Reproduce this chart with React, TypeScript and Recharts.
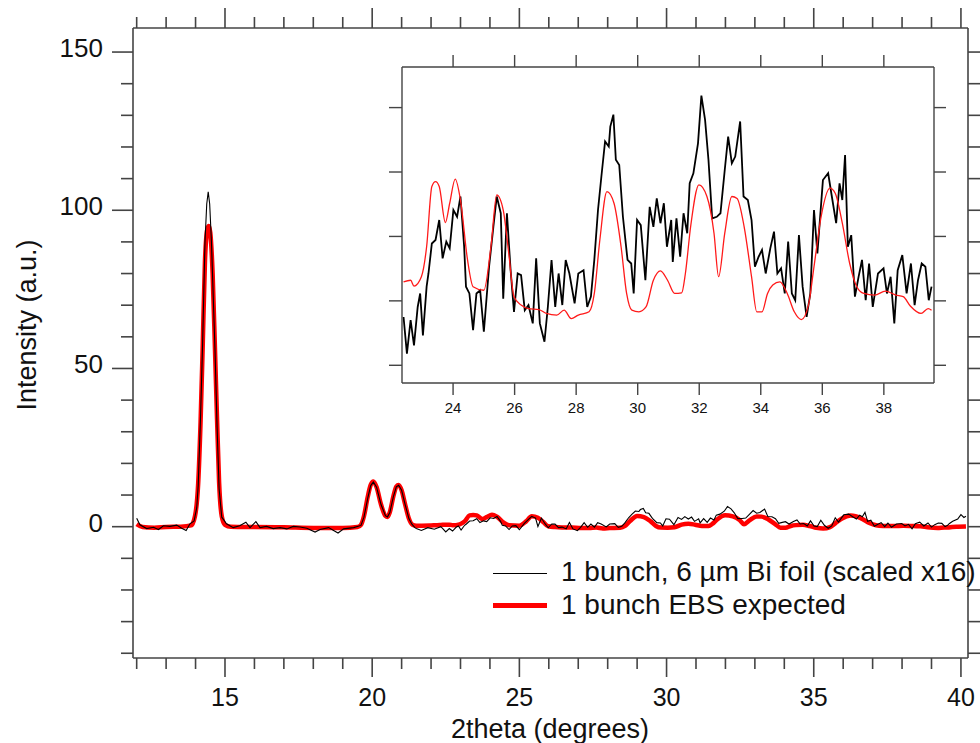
import React from 'react';
import { LineChart, Line, XAxis, YAxis } from 'recharts';

// ---- data (2theta in degrees, intensity in a.u.) ----

// measured curve, 1 bunch / 6 um Bi foil (scaled x16), below the inset range
const blackLow = [
  [12.0, 2.7], [12.11, 0.6], [12.34, -0.6], [12.57, -0.2], [12.74, -0.9], [12.91, 0.3],
  [13.13, 0.1], [13.36, 0.5], [13.53, -0.5], [13.68, -1.2], [13.81, 0.9], [13.95, 1.8],
  [14.04, 6], [14.09, 13], [14.17, 35], [14.24, 58], [14.32, 90], [14.38, 102], [14.43, 105.8],
  [14.48, 102], [14.54, 90], [14.66, 56], [14.73, 32], [14.8, 12], [14.89, 3], [14.97, 2.0],
  [15.05, 0.9], [15.28, -0.3], [15.5, 0.3], [15.71, 1.4], [15.85, -0.3], [16.05, 1.6],
  [16.19, -0.3], [16.41, 0.1], [16.64, -0.6], [16.87, -0.3], [17.1, -0.7], [17.32, 0.1],
  [17.55, -0.1], [17.78, -0.5], [18.06, -1.7], [18.23, -0.9], [18.52, -0.3], [18.69, -1.2],
  [18.84, -2.0], [19.03, -0.7], [19.37, -0.3], [19.62, 0.4], [19.72, 3], [19.85, 9],
  [19.95, 13], [20.04, 14.1], [20.15, 12.5], [20.3, 7], [20.45, 3.5], [20.52, 3.1], [20.6, 4.5],
  [20.72, 9.5], [20.82, 12.6], [20.9, 13.1], [21.0, 11.5], [21.12, 7], [21.25, 2.5],
  [21.35, 0.8], [21.45, -0.3], [21.5, -0.6], [21.67, -1.2], [21.89, -0.3], [22.11, -0.8],
  [22.33, 0.0],
];

// measured curve inside the zoomed window (same units)
const blackInset = [
  [22.39, -0.5], [22.5, -1.64], [22.62, -0.6], [22.73, -1.38], [22.85, -0.19], [22.93, 0.23],
  [23.02, -1.07], [23.14, 0.44], [23.2, 0.85], [23.31, 1.78], [23.43, 1.89], [23.55, 2.51],
  [23.66, 1.32], [23.78, 1.84], [23.89, 1.63], [24.01, 2.82], [24.13, 2.61], [24.24, 3.24],
  [24.36, 1.68], [24.42, 0.44], [24.53, 0.23], [24.65, -0.91], [24.76, 0.23], [24.88, 0.33],
  [25.0, -0.96], [25.17, 1.06], [25.31, 2.3], [25.42, 3.24], [25.55, 2.72], [25.63, 0.07],
  [25.75, 2.72], [25.87, 0.95], [25.98, -0.34], [26.1, 0.85], [26.21, 0.8], [26.33, -0.29],
  [26.45, -0.13], [26.59, -0.7], [26.7, 1.32], [26.82, -0.7], [26.97, -1.27], [27.08, -0.19],
  [27.2, 1.27], [27.32, -0.19], [27.43, 0.85], [27.55, -0.13], [27.66, 1.27], [27.78, 0.85],
  [27.95, -0.08], [28.07, 0.85], [28.24, 0.95], [28.36, -0.19], [28.48, 0.13], [28.59, 1.27],
  [28.71, 2.82], [28.82, 3.86], [28.94, 4.95], [29.06, 4.79], [29.11, 5.41], [29.21, 5.78],
  [29.29, 4.38], [29.4, 4.22], [29.52, 2.61], [29.67, 1.27], [29.79, 1.16], [29.87, 0.23],
  [29.98, 2.51], [30.1, 2.35], [30.25, 0.64], [30.39, 2.92], [30.51, 2.3], [30.62, 3.18],
  [30.74, 2.41], [30.85, 3.03], [30.95, 1.68], [31.09, 2.51], [31.14, 1.21], [31.26, 2.56],
  [31.38, 1.37], [31.49, 2.72], [31.61, 2.1], [31.69, 3.65], [31.81, 3.96], [31.96, 4.89],
  [32.07, 6.37], [32.19, 5.62], [32.3, 4.38], [32.42, 2.56], [32.57, 2.61], [32.69, 2.72],
  [32.83, 4.07], [32.94, 5.1], [33.06, 4.27], [33.17, 4.48], [33.33, 5.57], [33.44, 3.24],
  [33.58, 3.13], [33.7, 2.51], [33.81, 1.06], [33.93, 1.37], [34.04, 1.58], [34.16, 0.85],
  [34.31, 1.63], [34.43, 2.15], [34.54, 0.85], [34.66, 1.01], [34.78, 0.23], [34.89, 1.84],
  [35.01, 0.23], [35.12, 0.02], [35.24, 2.04], [35.36, 0.44], [35.49, -0.5], [35.61, 0.23],
  [35.73, 2.82], [35.84, 1.47], [36.02, 3.75], [36.19, 3.96], [36.31, 3.24], [36.45, 2.41],
  [36.56, 3.65], [36.65, 3.13], [36.74, 4.53], [36.83, 1.68], [36.94, 2.04], [37.06, 0.13],
  [37.18, 0.75], [37.29, 1.27], [37.41, 0.02], [37.52, 1.16], [37.64, -0.19], [37.81, 0.85],
  [37.99, 1.01], [38.1, 0.23], [38.22, 0.75], [38.34, -0.7], [38.45, 0.95], [38.6, 1.42],
  [38.74, 0.23], [38.88, 1.16], [39.0, -0.13], [39.11, 0.64], [39.23, 1.16], [39.35, 1.06],
  [39.46, 0.02], [39.55, 0.44],
];

const blackTail = [[39.6, 0.95], [39.72, 1.7], [39.89, 2.4], [40.0, 3.8], [40.1, 2.9], [40.17, 3.3]];

// expected EBS curve
const redLow = [
  [12.0, 0.8], [12.2, -0.1], [12.6, -0.3], [13.0, -0.1], [13.5, 0], [13.85, 0.4], [13.98, 3.3],
  [14.09, 13.8], [14.17, 33], [14.24, 56], [14.32, 84], [14.4, 94], [14.45, 95], [14.5, 93],
  [14.58, 80], [14.66, 56], [14.73, 34], [14.8, 14], [14.89, 3.3], [15.0, 0.6], [15.2, 0],
  [16.0, -0.1], [17.0, -0.2], [18.0, -0.4], [19.0, -0.4], [19.5, -0.1], [19.62, 0.6],
  [19.72, 3.3], [19.85, 9.5], [19.95, 13.2], [20.04, 14.3], [20.15, 12.5], [20.3, 7],
  [20.45, 3.4], [20.52, 3.1], [20.6, 4.6], [20.72, 9.6], [20.82, 12.7], [20.9, 13.2],
  [21.0, 11.5], [21.12, 7], [21.25, 2.5], [21.37, 0.6], [21.5, 0.3], [22.0, 0.4], [22.3, 0.5],
];

const redInset = [
  [22.39, 0.59], [22.62, 0.64], [22.73, 0.46], [22.97, 0.75], [23.14, 1.68], [23.31, 3.55],
  [23.43, 3.7], [23.55, 3.55], [23.75, 2.43], [23.89, 3.03], [24.07, 3.78], [24.24, 3.13],
  [24.47, 1.27], [24.65, 0.44], [25.0, 0.33], [25.23, 1.68], [25.42, 3.29], [25.63, 2.82],
  [25.81, 1.47], [25.98, 0.13], [26.21, -0.13], [26.45, -0.24], [26.79, -0.27], [27.03, -0.39],
  [27.37, -0.44], [27.61, -0.29], [27.84, -0.55], [28.07, -0.44], [28.42, -0.34], [28.59, 0.23],
  [28.77, 1.89], [29.0, 3.39], [29.23, 3.03], [29.46, 1.68], [29.64, 0.23], [29.81, -0.29],
  [30.04, -0.34], [30.27, -0.19], [30.51, 0.64], [30.74, 0.93], [30.97, 0.64], [31.2, 0.23],
  [31.43, 0.25], [31.55, 0.85], [31.72, 2.3], [31.99, 3.6], [32.25, 3.24], [32.48, 2.1],
  [32.63, 0.75], [32.83, 2.1], [33.06, 3.24], [33.23, 3.18], [33.46, 2.3], [33.7, 0.75],
  [33.87, -0.34], [34.04, -0.34], [34.22, 0.23], [34.39, 0.49], [34.62, 0.59], [34.86, 0.23],
  [35.09, -0.34], [35.32, -0.58], [35.55, -0.13], [35.73, 1.06], [35.96, 2.61], [36.25, 3.5],
  [36.42, 3.34], [36.65, 2.41], [36.89, 1.16], [37.12, 0.44], [37.35, 0.23], [37.7, 0.18],
  [38.05, 0.3], [38.39, 0.18], [38.63, 0.13], [38.86, -0.16], [39.21, -0.39], [39.44, -0.24],
  [39.55, -0.29],
];

const redTail = [[39.7, -0.1], [39.9, 0], [40.17, 0.1]];

// axes
const mainXTicks = [12, 13, 14, 15, 16, 17, 18, 19, 20, 21, 22, 23, 24, 25, 26, 27, 28, 29, 30, 31, 32, 33, 34, 35, 36, 37, 38, 39, 40];
const mainYTicks = [-40, -30, -20, -10, 0, 10, 20, 30, 40, 50, 60, 70, 80, 90, 100, 110, 120, 130, 140, 150];
const insetXTicks = [24, 26, 28, 30, 32, 34, 36, 38];
const insetYTicks = [-2, 0, 2, 4, 6];

const legendItems = ['1 bunch, 6 \u00b5m Bi foil (scaled x16)', '1 bunch EBS expected'];

const toPts = (...segs: number[][][]) => segs.flat().map(([x, y]) => ({ x, y }));

const blackMain = toPts(blackLow, blackInset, blackTail);
const redMain = toPts(redLow, redInset, redTail);
const blackZoom = toPts(blackInset);
const redZoom = toPts(redInset);

const FONT = '"Liberation Sans", Arial, Helvetica, sans-serif';
const INK = '#111';
const AXIS = '#444';

// --- tick renderers (tickSize=0 so x/y are on the axis line) ---
const BottomTick = (p: any) => {
  const major = p.payload.value % 5 === 0;
  return (
    <g>
      <line x1={p.x} y1={p.y} x2={p.x} y2={p.y + (major ? 19 : 11)} stroke={AXIS} strokeWidth={1.6} />
      {major && (
        <text x={p.x} y={p.y + 48} textAnchor="middle" fontSize={25} fill={INK} fontFamily={FONT}>
          {p.payload.value}
        </text>
      )}
    </g>
  );
};

const TopTick = (p: any) => {
  const major = p.payload.value % 5 === 0;
  return <line x1={p.x} y1={p.y} x2={p.x} y2={p.y - (major ? 20 : 11)} stroke={AXIS} strokeWidth={1.6} />;
};

const LeftTick = (p: any) => {
  const major = p.payload.value % 50 === 0;
  return (
    <g>
      <line x1={p.x} y1={p.y} x2={p.x - (major ? 21 : 12)} y2={p.y} stroke={AXIS} strokeWidth={1.6} />
      {major && (
        <text x={p.x - 30} y={p.y + 5} textAnchor="end" fontSize={26} fill={INK} fontFamily={FONT}>
          {p.payload.value}
        </text>
      )}
    </g>
  );
};

const RightTick = (p: any) => (
  <line x1={p.x} y1={p.y} x2={p.x + 13} y2={p.y} stroke={AXIS} strokeWidth={1.6} />
);

const InsetBottomTick = (p: any) => (
  <g>
    <line x1={p.x} y1={p.y} x2={p.x} y2={p.y + 12} stroke={AXIS} strokeWidth={1.4} />
    <text x={p.x} y={p.y + 30} textAnchor="middle" fontSize={15} fill={INK} fontFamily={FONT}>
      {p.payload.value}
    </text>
  </g>
);
const InsetTopTick = (p: any) => <line x1={p.x} y1={p.y} x2={p.x} y2={p.y - 12} stroke={AXIS} strokeWidth={1.4} />;
const InsetLeftTick = (p: any) => <line x1={p.x} y1={p.y} x2={p.x - 13} y2={p.y} stroke={AXIS} strokeWidth={1.4} />;
const InsetRightTick = (p: any) => <line x1={p.x} y1={p.y} x2={p.x + 12} y2={p.y} stroke={AXIS} strokeWidth={1.4} />;

const xTitle = () => (
  <text x={550} y={738} textAnchor="middle" fontSize={27} fill={INK} fontFamily={FONT}>
    2theta (degrees)
  </text>
);
const yTitle = () => (
  <text x={36} y={325} transform="rotate(-90 36 325)" textAnchor="middle" fontSize={27} fill={INK} fontFamily={FONT}>
    Intensity (a.u.)
  </text>
);

export default function App() {
  const axisLine = { stroke: AXIS, strokeWidth: 1.6 };
  const insetLine = { stroke: AXIS, strokeWidth: 1.4 };
  return (
    <div style={{ position: 'absolute', left: 0, top: 0, width: 980, height: 743, background: '#fff', overflow: 'hidden' }}>
      <LineChart width={980} height={743} margin={{ top: 0, right: 0, bottom: 0, left: 0 }}>
        <XAxis dataKey="x" type="number" domain={[11.875, 40.24]} allowDataOverflow ticks={mainXTicks} interval={0}
          height={85} tickSize={0} tickMargin={0} tickLine={false} axisLine={axisLine} tick={BottomTick} label={xTitle} />
        <XAxis xAxisId="top" orientation="top" dataKey="x" type="number" domain={[11.875, 40.24]} allowDataOverflow
          ticks={mainXTicks} interval={0} height={28} tickSize={0} tickMargin={0} tickLine={false} axisLine={axisLine} tick={TopTick} />
        <YAxis type="number" domain={[-41.5, 157.6]} allowDataOverflow ticks={mainYTicks} interval={0} width={133}
          tickSize={0} tickMargin={0} tickLine={false} axisLine={axisLine} tick={LeftTick} label={yTitle} />
        <YAxis yAxisId="r" orientation="right" type="number" domain={[-41.5, 157.6]} allowDataOverflow ticks={mainYTicks}
          interval={0} width={12} tickSize={0} tickMargin={0} tickLine={false} axisLine={axisLine} tick={RightTick} />
        <Line data={redMain} dataKey="y" type="monotone" stroke="#ff0000" strokeWidth={4.5} dot={false} isAnimationActive={false} />
        <Line data={blackMain} dataKey="y" type="linear" stroke="#000" strokeWidth={1.1} dot={false} isAnimationActive={false} />
      </LineChart>

      <div style={{ position: 'absolute', left: 380, top: 47, background: '#fff' }}>
        <LineChart width={568} height={371} margin={{ top: 0, right: 0, bottom: 0, left: 0 }}>
          <XAxis dataKey="x" type="number" domain={[22.34, 39.63]} allowDataOverflow ticks={insetXTicks} interval={0}
            height={35} tickSize={0} tickMargin={0} tickLine={false} axisLine={insetLine} tick={InsetBottomTick} />
          <XAxis xAxisId="top" orientation="top" dataKey="x" type="number" domain={[22.34, 39.63]} allowDataOverflow
            ticks={insetXTicks} interval={0} height={20} tickSize={0} tickMargin={0} tickLine={false} axisLine={insetLine} tick={InsetTopTick} />
          <YAxis type="number" domain={[-2.55, 7.26]} allowDataOverflow ticks={insetYTicks} interval={0} width={22}
            tickSize={0} tickMargin={0} tickLine={false} axisLine={insetLine} tick={InsetLeftTick} />
          <YAxis yAxisId="r" orientation="right" type="number" domain={[-2.55, 7.26]} allowDataOverflow ticks={insetYTicks}
            interval={0} width={14} tickSize={0} tickMargin={0} tickLine={false} axisLine={insetLine} tick={InsetRightTick} />
          <Line data={blackZoom} dataKey="y" type="linear" stroke="#000" strokeWidth={1.8} dot={false} isAnimationActive={false} />
          <Line data={redZoom} dataKey="y" type="monotone" stroke="#ff1a1a" strokeWidth={1.3} dot={false} isAnimationActive={false} />
        </LineChart>
      </div>

      {/* legend */}
      <div style={{ position: 'absolute', left: 493, top: 555, fontFamily: FONT, fontSize: 28, color: INK, whiteSpace: 'nowrap' }}>
        {legendItems.map((label, i) => (
          <div key={label} style={{ display: 'flex', alignItems: 'center', height: 33, lineHeight: '33px' }}>
            <div style={{ width: 54, height: i === 0 ? 1.4 : 5, background: i === 0 ? '#000' : '#ff0000', marginRight: 14, marginTop: i === 0 ? 4 : 2 }} />
            <span>{label}</span>
          </div>
        ))}
      </div>
    </div>
  );
}
